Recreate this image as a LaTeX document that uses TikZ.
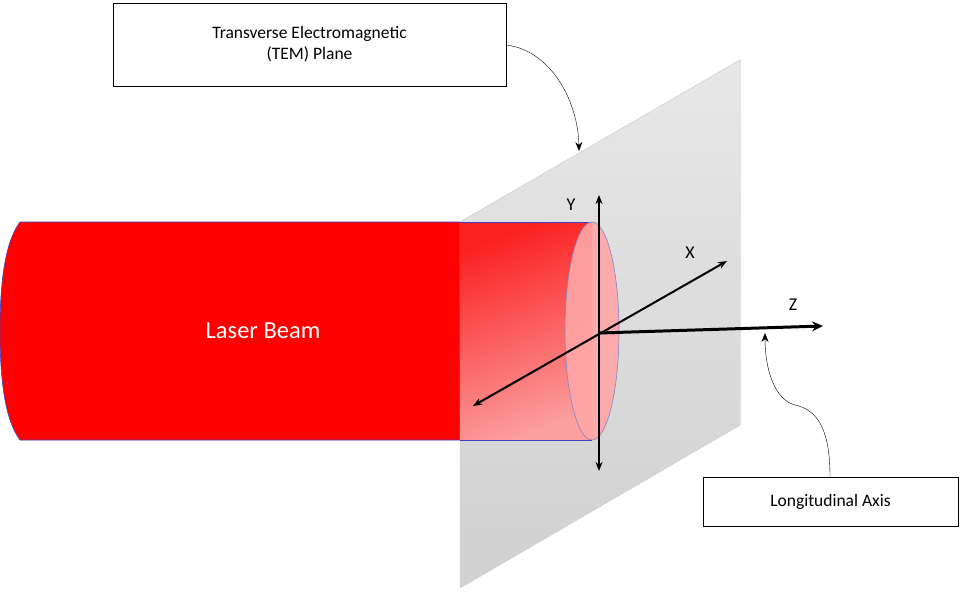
\documentclass[tikz,border=0pt]{standalone}
\usepackage{fontspec}
\setmainfont{Carlito}
\usetikzlibrary{arrows.meta}
\begin{document}
\begin{tikzpicture}[x=1pt,y=-1pt,
 box/.style={draw,line width=0.9pt,fill=white,align=center},
 ax/.style={line width=2pt,{Stealth[length=9pt,width=7pt]}-{Stealth[length=9pt,width=7pt]}},
 lab/.style={scale=1.8,transform shape}]
\useasboundingbox (0,0) rectangle (960,591);
% cylinder body left of plane
\fill[red] (20,222) -- (460,222) -- (460,440) -- (20,440) .. controls (5,420) and (0,380) .. (0,331) .. controls (0,282) and (5,242) .. (20,222) -- cycle;
\draw[blue!50!gray,line width=0.6pt] (20,222) -- (460,222) (20,440) -- (460,440) (20,222) .. controls (5,242) and (0,282) .. (0,331) .. controls (0,380) and (5,420) .. (20,440);
% plane
\fill[top color=white,bottom color=gray!20,opacity=0.9] (460,222) -- (740,60) -- (740,425) -- (460,588) -- cycle;
\draw[gray!30,line width=0.5pt] (460,222) -- (740,60) -- (740,425) -- (460,588) -- cycle;
% cylinder behind plane
\shade[top color=red!95,bottom color=red!40,shading angle=20,opacity=0.9] (460,222) -- (592,222) -- (592,440) -- (460,440) -- cycle;
\draw[blue!50!gray,line width=0.6pt] (460,222) -- (592,222) (460,440) -- (592,440);
\fill[red!35,opacity=0.9] (592,331) ellipse [x radius=27,y radius=109];
\draw[blue!40!gray!70,line width=0.6pt] (592,331) ellipse [x radius=27,y radius=109];
% axes
\coordinate (o) at (599,333);
\coordinate (yt) at (599,195); \coordinate (yb) at (599,471);
\coordinate (xa) at (473,406); \coordinate (xb) at (727,261);
\coordinate (zb) at (823,326);
\draw[ax] (yb) -- (yt);
\draw[ax] (xa) -- (xb);
\draw[line width=3pt,-{Stealth[length=11pt,width=10pt]}] (o) -- (zb);
\node[lab] (ly) at (571,205) {Y};
\node[lab] (lx) at (690,253) {X};
\node[lab] (lz) at (793,305) {Z};
\node[white,scale=2.45,transform shape] (lb) at (263,331) {Laser Beam};
% boxes
\draw[line width=0.9pt] (113,3) rectangle (506,86);
\draw[line width=0.9pt] (703,477) rectangle (958,526);
\node[align=center,scale=1.75,transform shape] (t1) at (309.5,44.5) {Transverse Electromagnetic\\(TEM) Plane};
\node[scale=1.75,transform shape] (t2) at (830.5,501.5) {Longitudinal Axis};
\coordinate (e1) at (506,45);
\coordinate (e2) at (830,477);
\coordinate (p1) at (579,151);
\coordinate (p2) at (765,333);
\draw[-{Stealth[length=9pt,width=7pt]}] (e1) .. controls (550,50) and (578,100) .. (p1);
\draw[-{Stealth[length=9pt,width=7pt]}] (e2) .. controls (830,430) and (818,410) .. (795,405) .. controls (775,400) and (765,370) .. (p2);
\end{tikzpicture}
\end{document}
